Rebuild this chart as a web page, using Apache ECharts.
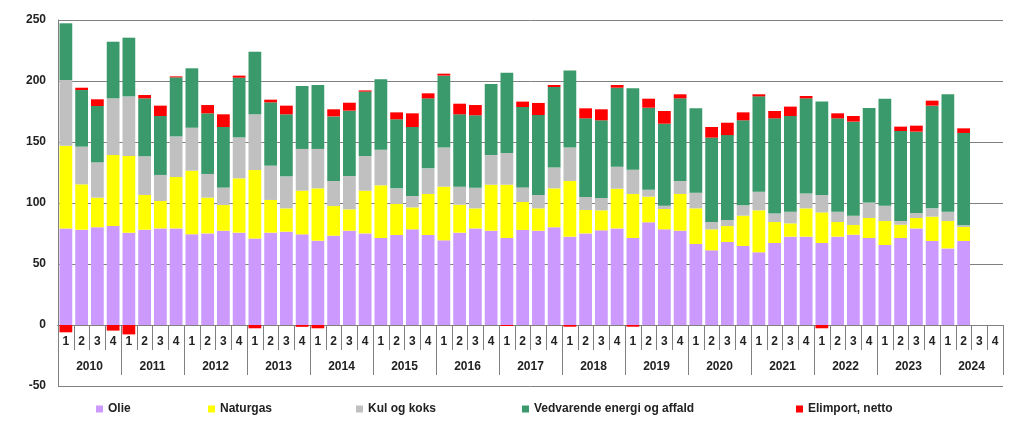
<!DOCTYPE html>
<html><head><meta charset="utf-8">
<script src="https://cdn.jsdelivr.net/npm/echarts@6/dist/echarts.min.js"></script>
<style>html,body{margin:0;padding:0;background:#fff}#c{width:1024px;height:435px}</style>
</head><body><div id="c"></div>
<script>
const quarters = ['1','2','3','4','1','2','3','4','1','2','3','4','1','2','3','4','1','2','3','4','1','2','3','4','1','2','3','4','1','2','3','4','1','2','3','4','1','2','3','4','1','2','3','4','1','2','3','4','1','2','3','4','1','2','3','4','1','2','3','4'];
const years = ['2010','2011','2012','2013','2014','2015','2016','2017','2018','2019','2020','2021','2022','2023','2024'];
const seriesNames = ['Olie','Naturgas','Kul og koks','Vedvarende energi og affald','Elimport, netto'];
const olie = [79.2,78.1,80.1,81.1, 75.7,78.1,79.2,79.2, 74.3,75.1,77.3,75.7, 70.8,75.7,76.5,74.3, 69.1,73.2,77.3,75.1, 71.3,73.8,78.4,73.8, 69.4,75.7,79.2,77.3, 71.3,77.9,77.3,80.1, 72.4,75.1,77.6,79.2, 71.3,84.2,78.4,77.3, 66.4,61.2,68.0,64.8, 59.6,67.2,72.4,72.4, 67.2,72.4,74.0,71.3, 65.6,71.3,79.2,68.9, 62.8,68.9,null,null];
const naturgas = [67.8,37.2,24.3,58.2, 62.8,28.5,22.4,42.1, 52.2,29.3,21.1,44.5, 56.2,26.8,19.1,35.8, 42.9,24.3,17.5,35.0, 43.2,25.4,18.0,33.6, 44.0,22.9,16.4,37.7, 43.7,22.9,18.3,31.9, 45.6,19.2,16.4,32.5, 36.1,21.0,16.7,30.1, 29.2,17.2,13.1,24.8, 34.4,17.2,10.9,23.2, 25.1,12.0,8.0,16.4, 19.6,10.9,8.5,19.9, 22.4,11.4,null,null];
const kul = [53.8,30.9,28.9,46.5, 48.9,31.7,21.4,33.3, 35.2,19.4,14.2,33.6, 45.7,28.1,26.3,34.2, 32.3,20.5,27.3,28.4, 29.2,12.8,9.3,21.0, 32.0,14.8,17.0,24.3, 26.0,12.0,11.0,17.0, 27.4,10.6,10.1,18.1, 19.9,5.7,2.7,10.6, 12.9,6.0,5.0,8.5, 15.3,6.9,9.6,12.1, 14.3,8.5,7.6,12.8, 12.6,3.0,4.1,6.8, 7.7,1.4,null,null];
const vedvarende = [46.5,46.4,46.2,46.4, 48.1,47.5,48.3,48.4, 48.7,49.7,49.7,48.9, 51.3,51.9,50.8,51.6, 52.4,53.0,53.6,52.8, 57.7,56.6,56.6,57.4, 59.0,59.3,59.3,58.2, 65.8,65.9,65.5,66.1, 63.3,64.5,63.7,64.7, 66.7,67.2,67.2,67.8, 69.1,69.2,69.6,69.7, 78.1,78.1,78.4,78.1, 76.5,76.5,77.1,77.4, 87.7,73.8,66.7,84.2, 96.2,75.7,null,null];
const elimport = [-6.0,1.9,5.5,-4.6, -7.7,2.7,8.5,0.8, 0,6.8,10.4,1.7, -2.7,2.2,7.1,-1.5, -2.7,5.8,6.5,1.0, 0,5.7,11.2,4.1, 1.6,8.7,8.4,0, -0.8,4.4,9.9,1.6, -1.4,8.2,9.0,2.2, -1.4,7.4,10.4,3.3, 0,8.7,10.1,6.5, 1.7,6.0,7.7,1.9, -2.7,4.1,4.6,0, 0,3.6,4.9,4.1, 0,3.8,null,null];

const colors = ['#CC99FF','#FFFF00','#C0C0C0','#3B9A6B','#FF0000'];
const values = [olie, naturgas, kul, vedvarende, elimport];
const legendLeft = [96, 208, 356, 522, 796];
const FONT = '"Liberation Sans", Arial, sans-serif';
const gridColor = '#808080';

const chart = echarts.init(document.getElementById('c'), null, {renderer:'canvas'});
chart.setOption({
  animation: false,
  backgroundColor: '#fff',
  grid: {left: 58, right: 21, top: 20, bottom: 49, containLabel: false, outerBoundsMode: 'none'},
  legend: seriesNames.map((n, i) => ({
    data: [n], left: legendLeft[i], top: 403, padding: 0,
    itemWidth: 7, itemHeight: 7, icon: 'rect', selectedMode: false,
    textStyle: {fontFamily: FONT, fontWeight: 'bold', fontSize: 12, color: '#222'}
  })),
  xAxis: [
    {type: 'category', data: quarters, position: 'bottom', offset: -61,
     axisLine: {show: true, onZero: false, lineStyle: {color: gridColor, width: 1}},
     axisTick: {show: true, interval: 0, length: 25, lineStyle: {color: gridColor}},
     axisLabel: {interval: 0, margin: 11, fontFamily: FONT, fontWeight: 'bold', fontSize: 12, color: '#222'},
     splitLine: {show: false}},
    {type: 'category', data: years, position: 'bottom', offset: -61,
     axisLine: {show: true, onZero: false, lineStyle: {color: gridColor, width: 1}},
     axisTick: {show: true, interval: 0, length: 50, lineStyle: {color: gridColor}},
     axisLabel: {interval: 0, margin: 36, fontFamily: FONT, fontWeight: 'bold', fontSize: 12, color: '#222'},
     splitLine: {show: false}}
  ],
  yAxis: {
    type: 'value', min: -50, max: 250, interval: 50,
    axisLine: {show: true, lineStyle: {color: gridColor}},
    axisTick: {show: false},
    axisLabel: {margin: 12, fontFamily: FONT, fontWeight: 'bold', fontSize: 12, color: '#222'},
    splitLine: {show: true, lineStyle: {color: gridColor, width: 1}}
  },
  series: seriesNames.map((n, i) => ({
    name: n, type: 'bar', stack: 'total', xAxisIndex: 0,
    data: values[i], barCategoryGap: '19%',
    itemStyle: {color: colors[i]},
    emphasis: {disabled: true}
  }))
});
</script>
</body></html>
